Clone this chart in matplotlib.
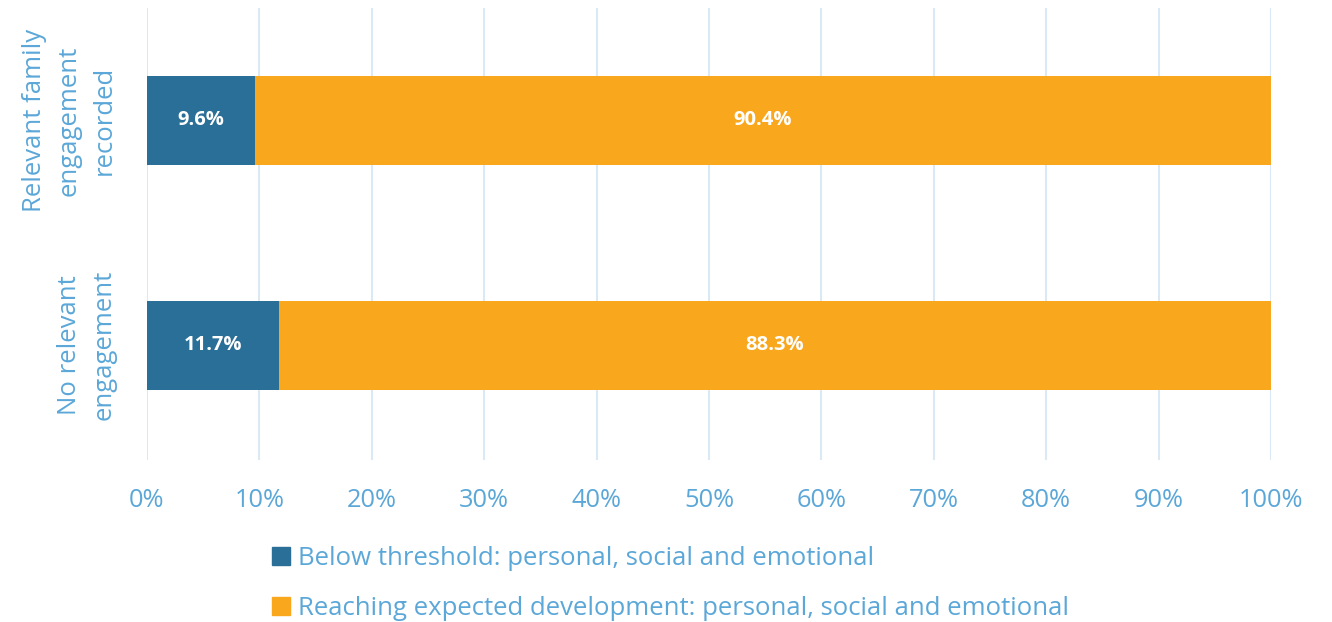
import numpy as np
import matplotlib.pyplot as plt
from matplotlib.patches import Patch

# data
categories = ['No relevant\nengagement', 'Relevant family\nengagement\nrecorded']
below = [11.7, 9.6]
reaching = [88.3, 90.4]
series_names = ['Below threshold: personal, social and emotional',
                'Reaching expected development: personal, social and emotional']
xticks = [0, 10, 20, 30, 40, 50, 60, 70, 80, 90, 100]

blue = '#2a6f98'
orange = '#f9a81e'
txt = '#5ba7d8'
grid = '#dbe9f5'

plt.rcParams['font.family'] = ['Open Sans', 'DejaVu Sans']

fig = plt.figure(figsize=(13.32, 6.22), dpi=100)
ax = fig.add_axes([147/1332, 1-460/622, (1271-147)/1332, (460-8)/622])

y = np.arange(len(categories))
h = 0.396
ax.barh(y, below, height=h, color=blue, zorder=3)
ax.barh(y, reaching, left=below, height=h, color=orange, zorder=3)

for i in range(len(categories)):
    ax.text(below[i]/2, y[i], f'{below[i]:.1f}%', ha='center', va='center',
            color='white', fontsize=14.5, fontweight='bold', zorder=4)
    ax.text(below[i] + reaching[i]/2, y[i], f'{reaching[i]:.1f}%', ha='center',
            va='center', color='white', fontsize=14.5, fontweight='bold', zorder=4)

ax.set_xlim(0, 100)
ax.set_ylim(-0.51, 1.5)
ax.set_xticks(xticks)
ax.set_xticklabels([f'{t}%' for t in xticks])
ax.set_yticks(y)
ax.set_yticklabels(categories, rotation=90, va='center', ha='right',
                   multialignment='center', linespacing=1.5)
ax.tick_params(axis='x', colors=txt, labelsize=18.3, length=0, pad=20)
ax.tick_params(axis='y', colors=txt, labelsize=18.5, length=0, pad=22)
ax.grid(axis='x', color=grid, linewidth=1.5, zorder=0)
for s in ax.spines.values():
    s.set_visible(False)

handles = [Patch(color=blue), Patch(color=orange)]
fig.legend(handles, series_names, loc='upper left', bbox_to_anchor=(262/1332, 1-536/622),
           frameon=False, ncol=1, fontsize=18.5, labelcolor=txt, handlelength=0.7,
           handleheight=0.7, handletextpad=0.3, labelspacing=0.95, borderaxespad=0)

fig.savefig('out.png', dpi=100)
